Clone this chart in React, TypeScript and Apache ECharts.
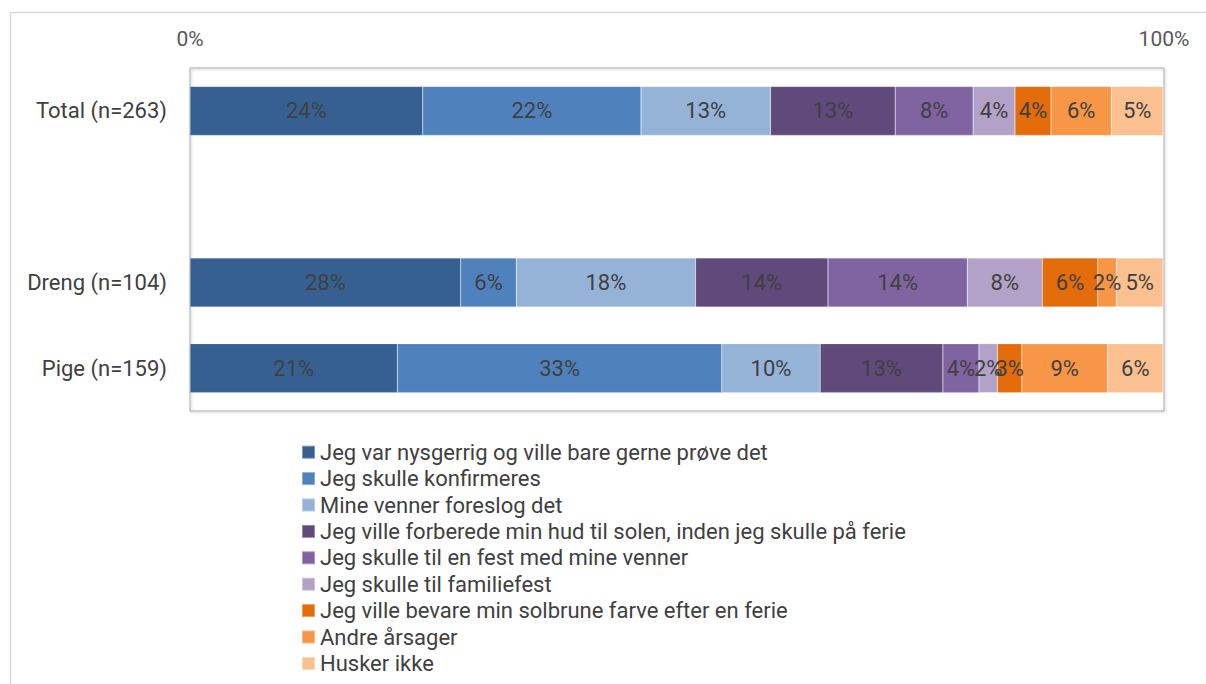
import React, { useEffect, useRef } from "react";
import * as echarts from "echarts";

const categories = ["Total (n=263)", "", "Dreng (n=104)", "Pige (n=159)"];
const seriesNames = [
  "Jeg var nysgerrig og ville bare gerne prøve det",
  "Jeg skulle konfirmeres",
  "Mine venner foreslog det",
  "Jeg ville forberede min hud til solen, inden jeg skulle på ferie",
  "Jeg skulle til en fest med mine venner",
  "Jeg skulle til familiefest",
  "Jeg ville bevare min solbrune farve efter en ferie",
  "Andre årsager",
  "Husker ikke",
];
const nysgerrig = [23.9, null, 27.8, 21.3];
const konfirmeres = [22.4, null, 5.7, 33.3];
const venner = [13.3, null, 18.4, 10.1];
const ferieForberede = [12.8, null, 13.6, 12.6];
const fest = [8.0, null, 14.3, 3.7];
const familiefest = [4.3, null, 7.7, 1.9];
const bevare = [3.7, null, 5.7, 2.5];
const andre = [6.2, null, 1.9, 8.8];
const huskerIkke = [5.3, null, 4.8, 5.7];
const seriesValues = [nysgerrig, konfirmeres, venner, ferieForberede, fest, familiefest, bevare, andre, huskerIkke];
const xTicks = [0, 100];

const colors = ["#376092", "#4F81BD", "#95B3D7", "#604A7B", "#8064A2", "#B3A2C7", "#E46C0A", "#F79646", "#FAC090"];
const FONT = "Roboto, 'Liberation Sans', sans-serif";

export default function App() {
  const ref = useRef<HTMLDivElement>(null);
  useEffect(() => {
    if (!ref.current) return;
    const chart = echarts.init(ref.current, null, { renderer: "svg" });
    chart.setOption({
      animation: false,
      textStyle: { fontFamily: FONT },
      graphic: [
        {
          type: "rect",
          shape: { x: 10.5, y: 12.5, width: 1300, height: 800 },
          style: { fill: "none", stroke: "#D9D9D9", lineWidth: 1.5 },
          z: -10,
          silent: true,
        },
      ],
      grid: {
        left: 190,
        top: 68,
        width: 974,
        height: 343,
        show: true,
        borderColor: "#ABABAB",
        borderWidth: 1,
        backgroundColor: "transparent",
        shadowColor: "rgba(0,0,0,0.25)",
        shadowBlur: 2,
        shadowOffsetX: 1,
        shadowOffsetY: 1,
      },
      xAxis: {
        type: "value",
        position: "top",
        min: xTicks[0],
        max: xTicks[1],
        interval: xTicks[1] - xTicks[0],
        axisLine: { show: false },
        axisTick: { show: false },
        splitLine: { show: false },
        axisLabel: {
          formatter: "{value}%",
          color: "#595959",
          fontSize: 21,
          margin: 19,
          fontFamily: FONT,
        },
      },
      yAxis: {
        type: "category",
        inverse: true,
        data: categories,
        axisLine: { show: false },
        axisTick: { show: false },
        splitLine: { show: false },
        axisLabel: { color: "#404040", fontSize: 22, margin: 23, fontFamily: FONT },
      },
      legend: {
        orient: "vertical",
        left: 301,
        top: 439,
        height: 260,
        padding: 0,
        itemWidth: 13,
        itemHeight: 13,
        itemGap: 0,
        icon: "rect",
        textStyle: { color: "#404040", fontSize: 22, lineHeight: 26.4, fontFamily: FONT },
        data: seriesNames,
      },
      series: seriesNames.map((name, i) => ({
        name,
        type: "bar",
        stack: "total",
        barWidth: 49,
        data: seriesValues[i],
        itemStyle: { color: colors[i], borderColor: "rgba(255,255,255,0.35)", borderWidth: 0.5 },
        label: {
          show: true,
          position: "inside",
          color: "#404040",
          fontSize: 22,
          fontFamily: FONT,
          formatter: (p: any) => (p.value == null ? "" : Math.round(p.value) + "%"),
        },
      })),
    });
    return () => chart.dispose();
  }, []);
  return (
    <div
      ref={ref}
      style={{ position: "fixed", left: 0, top: 0, width: 1206, height: 684, background: "#fff" }}
    />
  );
}
